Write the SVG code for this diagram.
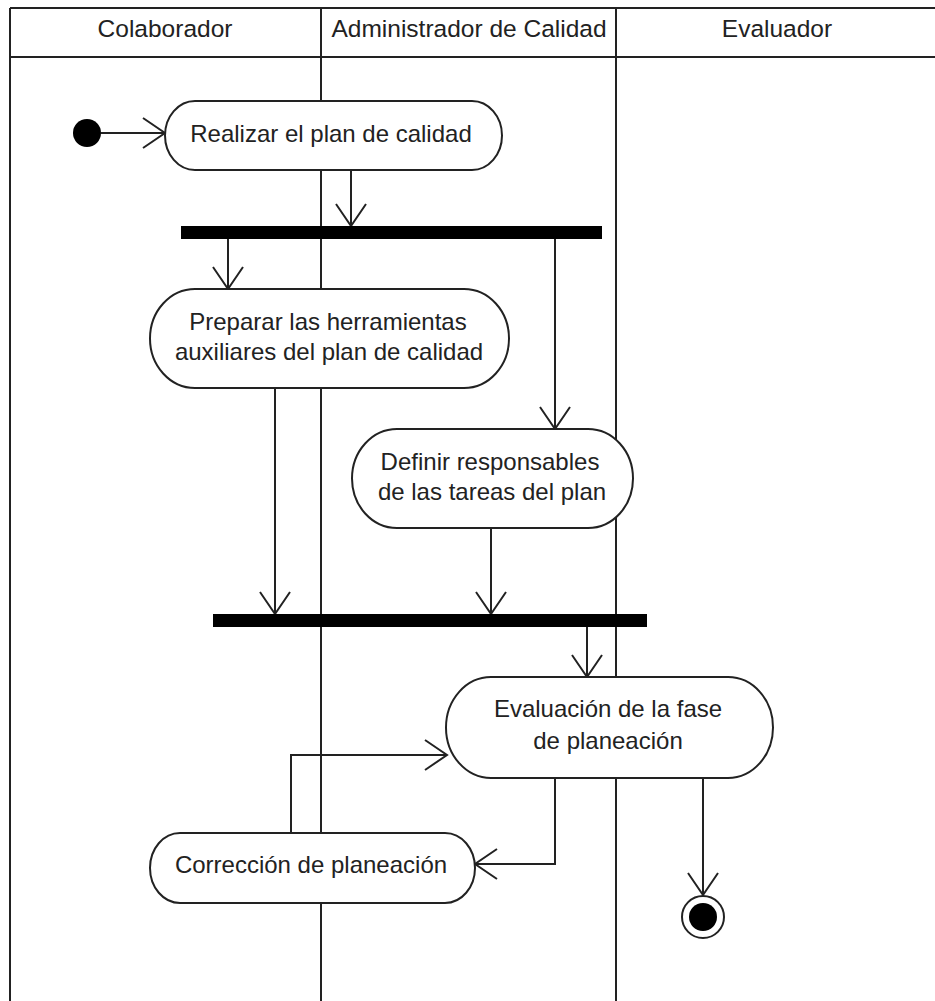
<svg xmlns="http://www.w3.org/2000/svg" width="935" height="1001" viewBox="0 0 935 1001">
<style>
.lane{stroke:#222;stroke-width:2;fill:none}
.hdr{font-family:"Liberation Sans",Arial,sans-serif;font-size:24.5px;fill:#222;text-anchor:middle}
.act{fill:#fff;stroke:#222;stroke-width:2}
.lbl{font-family:"Liberation Sans",Arial,sans-serif;font-size:24px;fill:#222;text-anchor:middle}
.edge{stroke:#222;stroke-width:2;fill:none;marker-end:url(#open)}
.bar{fill:#000}
</style>
<defs>
<marker id="open" markerUnits="userSpaceOnUse" markerWidth="30" markerHeight="34" refX="24" refY="16" orient="auto">
<path d="M2,1 L24,16 L2,31" fill="none" stroke="#222" stroke-width="2"/>
</marker>
</defs>
<rect width="935" height="1001" fill="#fff"/>
<g id="swimlanes">
<line class="lane" x1="10" y1="8" x2="935" y2="8"/>
<line class="lane" x1="10" y1="57" x2="935" y2="57"/>
<line class="lane" x1="10" y1="8" x2="10" y2="1001"/>
<line class="lane" x1="321" y1="8" x2="321" y2="1001"/>
<line class="lane" x1="616" y1="8" x2="616" y2="1001"/>
<text class="hdr" x="165" y="37">Colaborador</text>
<text class="hdr" x="469" y="37">Administrador de Calidad</text>
<text class="hdr" x="777" y="37">Evaluador</text>
</g>
<g id="connectors">
<line class="edge" x1="101" y1="133" x2="165" y2="133"/>
<line class="edge" x1="351" y1="170" x2="351" y2="226"/>
<line class="edge" x1="228" y1="239" x2="228" y2="289"/>
<line class="edge" x1="555" y1="239" x2="555" y2="429"/>
<line class="edge" x1="275" y1="388" x2="275" y2="614"/>
<line class="edge" x1="491" y1="528" x2="491" y2="614"/>
<line class="edge" x1="587" y1="627" x2="587" y2="677"/>
<polyline class="edge" points="555,778 555,864 475,864"/>
<polyline class="edge" points="291,833 291,755 447,755"/>
<line class="edge" x1="703" y1="778" x2="703" y2="895"/>
</g>
<g id="initial"><circle cx="87" cy="133" r="14" fill="#000"/></g>
<g id="realizar">
<rect class="act" x="165" y="101" width="337" height="69" rx="30" ry="34.5"/>
<text class="lbl" x="331" y="142">Realizar el plan de calidad</text>
</g>
<g id="fork"><rect class="bar" x="181" y="226" width="421" height="13"/></g>
<g id="preparar">
<rect class="act" x="150" y="289" width="359" height="99" rx="45" ry="49.5"/>
<text class="lbl" x="328" y="330">Preparar las herramientas</text>
<text class="lbl" x="329" y="360">auxiliares del plan de calidad</text>
</g>
<g id="definir">
<rect class="act" x="352" y="429" width="281" height="99" rx="45" ry="49.5"/>
<text class="lbl" x="490" y="470">Definir responsables</text>
<text class="lbl" x="492" y="500">de las tareas del plan</text>
</g>
<g id="join"><rect class="bar" x="213" y="614" width="434" height="13"/></g>
<g id="evaluacion">
<rect class="act" x="446" y="677" width="327" height="101" rx="45" ry="50.5"/>
<text class="lbl" x="608" y="717">Evaluación de la fase</text>
<text class="lbl" x="608" y="749">de planeación</text>
</g>
<g id="correccion">
<rect class="act" x="150" y="833" width="325" height="70" rx="30" ry="35"/>
<text class="lbl" x="311" y="873">Corrección de planeación</text>
</g>
<g id="final">
<circle cx="703" cy="917" r="21" fill="#fff" stroke="#222" stroke-width="2"/>
<circle cx="703" cy="917" r="14" fill="#000"/>
</g>
</svg>
